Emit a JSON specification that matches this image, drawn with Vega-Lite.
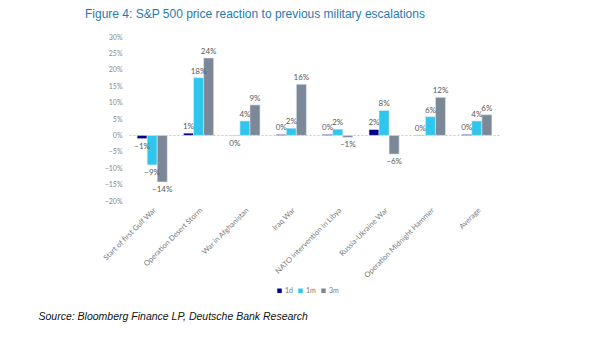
{
  "$schema": "https://vega.github.io/schema/vega-lite/v6.json",
  "autosize": "none",
  "width": 371,
  "height": 164,
  "padding": {"left": 129, "top": 37, "right": 105, "bottom": 140},
  "background": "white",
  "title": {
    "text": "Figure 4: S&P 500 price reaction to previous military escalations",
    "anchor": "start",
    "frame": "group",
    "dx": -44,
    "offset": 12,
    "font": "Liberation Sans",
    "fontSize": 12,
    "fontWeight": "normal",
    "color": "#1f7ab5"
  },
  "config": {
    "view": {"stroke": null},
    "font": "Lato",
    "axis": {"labelOverlap": false},
    "axisY": {"labelOverlap": false},
    "axisQuantitative": {"labelOverlap": false}
  },
  "data": {
    "values": [
      {"event": "Start of first Gulf War", "series": "1d", "value": -0.010},
      {"event": "Start of first Gulf War", "series": "1m", "value": -0.090},
      {"event": "Start of first Gulf War", "series": "3m", "value": -0.142},
      {"event": "Operation Desert Storm", "series": "1d", "value": 0.007},
      {"event": "Operation Desert Storm", "series": "1m", "value": 0.176},
      {"event": "Operation Desert Storm", "series": "3m", "value": 0.236},
      {"event": "War in Afghanistan", "series": "1d", "value": -0.001},
      {"event": "War in Afghanistan", "series": "1m", "value": 0.044},
      {"event": "War in Afghanistan", "series": "3m", "value": 0.093},
      {"event": "Iraq War", "series": "1d", "value": 0.003},
      {"event": "Iraq War", "series": "1m", "value": 0.022},
      {"event": "Iraq War", "series": "3m", "value": 0.156},
      {"event": "NATO intervention in Libya", "series": "1d", "value": 0.003},
      {"event": "NATO intervention in Libya", "series": "1m", "value": 0.019},
      {"event": "NATO intervention in Libya", "series": "3m", "value": -0.006},
      {"event": "Russia-Ukraine War", "series": "1d", "value": 0.018},
      {"event": "Russia-Ukraine War", "series": "1m", "value": 0.076},
      {"event": "Russia-Ukraine War", "series": "3m", "value": -0.057},
      {"event": "Operation Midnight Hammer", "series": "1d", "value": 0.001},
      {"event": "Operation Midnight Hammer", "series": "1m", "value": 0.057},
      {"event": "Operation Midnight Hammer", "series": "3m", "value": 0.116},
      {"event": "Average", "series": "1d", "value": 0.003},
      {"event": "Average", "series": "1m", "value": 0.044},
      {"event": "Average", "series": "3m", "value": 0.063}
    ]
  },
  "encoding": {
    "x": {
      "field": "event",
      "type": "nominal",
      "sort": null,
      "scale": {"paddingInner": 0.35, "paddingOuter": 0.175},
      "axis": {
        "title": "Source: Bloomberg Finance LP, Deutsche Bank Research",
        "titleAnchor": "start",
        "titleAlign": "left",
        "titleX": -91,
        "titleY": 118,
        "titleBaseline": "alphabetic",
        "titleFont": "Liberation Sans",
        "titleFontStyle": "italic",
        "titleFontWeight": "normal",
        "titleFontSize": 10.5,
        "titleColor": "#111111",
        "labelAngle": -45,
        "labelFontSize": 7.5,
        "labelColor": "#7a7a7a",
        "labelPadding": 5,
        "ticks": false,
        "domain": false
      }
    },
    "xOffset": {"field": "series", "type": "nominal", "scale": {"paddingInner": 0}},
    "y": {
      "field": "value",
      "type": "quantitative",
      "scale": {"domain": [-0.2, 0.3], "nice": false, "zero": false},
      "axis": {
        "title": null,
        "format": ".0%",
        "tickCount": 10,
        "labelOverlap": false,
        "labelSeparation": 0,
        "labelFontSize": 7,
        "labelColor": "#8a8a8a",
        "ticks": false,
        "domain": false,
        "grid": true,
        "gridColor": "#c8c8c8",
        "gridDash": [2, 2],
        "gridOpacity": {"condition": {"test": "datum.value === 0", "value": 1}, "value": 0},
        "labelPadding": 7
      }
    }
  },
  "layer": [
    {
      "mark": {"type": "bar", "stroke": "#e3e8ee", "strokeWidth": 0.6},
      "encoding": {
        "color": {
          "field": "series",
          "type": "nominal",
          "scale": {"domain": ["1d", "1m", "3m"], "range": ["#00008b", "#2fc6ee", "#7b8898"]},
          "legend": {
            "title": null,
            "orient": "none",
            "direction": "horizontal",
            "legendX": 147,
            "legendY": 250,
            "symbolType": "square",
            "symbolSize": 20,
            "symbolStrokeWidth": 0,
            "labelFontSize": 7,
            "labelColor": "#7a7a7a",
            "columnPadding": 4,
            "labelOffset": 2
          }
        }
      }
    },
    {
      "transform": [{"filter": "datum.value >= 0"}],
      "mark": {"type": "text", "baseline": "bottom", "dy": -2, "fontSize": 8, "color": "#595959"},
      "encoding": {
        "text": {"field": "value", "type": "quantitative", "format": ".0%"}
      }
    },
    {
      "transform": [{"filter": "datum.value < 0"}],
      "mark": {"type": "text", "baseline": "top", "dy": 4, "fontSize": 8, "color": "#595959"},
      "encoding": {
        "text": {"field": "value", "type": "quantitative", "format": ".0%"}
      }
    }
  ]
}
